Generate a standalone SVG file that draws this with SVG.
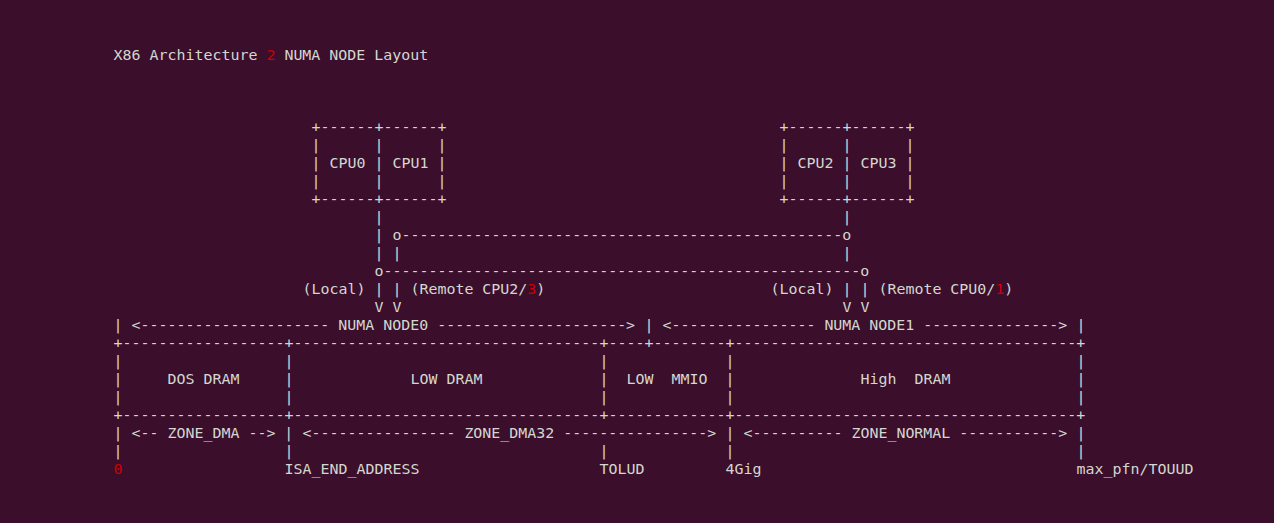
<svg xmlns="http://www.w3.org/2000/svg" width="1274" height="523" viewBox="0 0 1274 523">
<style>
text{font-family:"DejaVu Sans Mono","Liberation Mono",monospace;font-size:14.95px;fill:#d3d7cf;white-space:pre}
.r{fill:#cc0000}
</style>
<rect x="0" y="0" width="1274" height="523" fill="#3b0e2c"/>
<g id="title">
<text x="113.5" y="60" xml:space="preserve">X86 Architecture <tspan class="r">2</tspan> NUMA NODE Layout</text>
</g>
<g id="cpu01">
<text x="311.5" y="132" xml:space="preserve">+------+------+</text>
<text x="311.5" y="150" xml:space="preserve">|      |      |</text>
<text x="311.5" y="168" xml:space="preserve">| CPU0 | CPU1 |</text>
<text x="311.5" y="186" xml:space="preserve">|      |      |</text>
<text x="311.5" y="204" xml:space="preserve">+------+------+</text>
</g>
<g id="cpu23">
<text x="779.5" y="132" xml:space="preserve">+------+------+</text>
<text x="779.5" y="150" xml:space="preserve">|      |      |</text>
<text x="779.5" y="168" xml:space="preserve">| CPU2 | CPU3 |</text>
<text x="779.5" y="186" xml:space="preserve">|      |      |</text>
<text x="779.5" y="204" xml:space="preserve">+------+------+</text>
</g>
<g id="connectors">
<text x="374.5" y="222">|</text>
<text x="842.5" y="222">|</text>
<text x="374.5" y="240">|</text>
<text x="392.5" y="240">o-------------------------------------------------o</text>
<text x="374.5" y="258" xml:space="preserve">| |</text>
<text x="842.5" y="258">|</text>
<text x="374.5" y="276">o-----------------------------------------------------o</text>
<text x="302.5" y="294" xml:space="preserve">(Local) | | (Remote CPU2/<tspan class="r">3</tspan>)</text>
<text x="770.5" y="294" xml:space="preserve">(Local) | | (Remote CPU0/<tspan class="r">1</tspan>)</text>
<text x="374.5" y="312" xml:space="preserve">V V</text>
<text x="842.5" y="312" xml:space="preserve">V V</text>
</g>
<g id="numa-nodes">
<text x="113.5" y="330">|</text>
<text x="131.5" y="330" xml:space="preserve">&lt;--------------------- NUMA NODE0 ---------------------&gt;</text>
<text x="644.5" y="330">|</text>
<text x="662.5" y="330" xml:space="preserve">&lt;---------------- NUMA NODE1 ---------------&gt;</text>
<text x="1076.5" y="330">|</text>
</g>
<g id="memory-map">
<text x="113.5" y="348">+------------------</text>
<text x="284.5" y="348">+----------------------------------</text>
<text x="599.5" y="348">+----</text>
<text x="644.5" y="348">+--------</text>
<text x="725.5" y="348">+--------------------------------------+</text>
<text x="113.5" y="366">|</text><text x="284.5" y="366">|</text><text x="599.5" y="366">|</text><text x="725.5" y="366">|</text><text x="1076.5" y="366">|</text>
<text x="113.5" y="384">|</text><text x="284.5" y="384">|</text><text x="599.5" y="384">|</text><text x="725.5" y="384">|</text><text x="1076.5" y="384">|</text>
<text x="167.5" y="384" xml:space="preserve">DOS DRAM</text>
<text x="410.5" y="384" xml:space="preserve">LOW DRAM</text>
<text x="626.5" y="384" xml:space="preserve">LOW  MMIO</text>
<text x="860.5" y="384" xml:space="preserve">High  DRAM</text>
<text x="113.5" y="402">|</text><text x="284.5" y="402">|</text><text x="599.5" y="402">|</text><text x="725.5" y="402">|</text><text x="1076.5" y="402">|</text>
<text x="113.5" y="420">+------------------</text>
<text x="284.5" y="420">+----------------------------------</text>
<text x="599.5" y="420">+-------------</text>
<text x="725.5" y="420">+--------------------------------------+</text>
</g>
<g id="zones">
<text x="113.5" y="438" xml:space="preserve">| &lt;-- ZONE_DMA --&gt; |</text>
<text x="302.5" y="438" xml:space="preserve">&lt;---------------- ZONE_DMA32 ----------------&gt;</text>
<text x="725.5" y="438">|</text>
<text x="743.5" y="438" xml:space="preserve">&lt;---------- ZONE_NORMAL -----------&gt;</text>
<text x="1076.5" y="438">|</text>
<text x="113.5" y="456">|</text><text x="284.5" y="456">|</text><text x="599.5" y="456">|</text><text x="725.5" y="456">|</text><text x="1076.5" y="456">|</text>
<text x="113.5" y="474" class="r">0</text>
<text x="284.5" y="474">ISA_END_ADDRESS</text>
<text x="599.5" y="474">TOLUD</text>
<text x="725.5" y="474">4Gig</text>
<text x="1076.5" y="474">max_pfn/TOUUD</text>
</g>
</svg>
